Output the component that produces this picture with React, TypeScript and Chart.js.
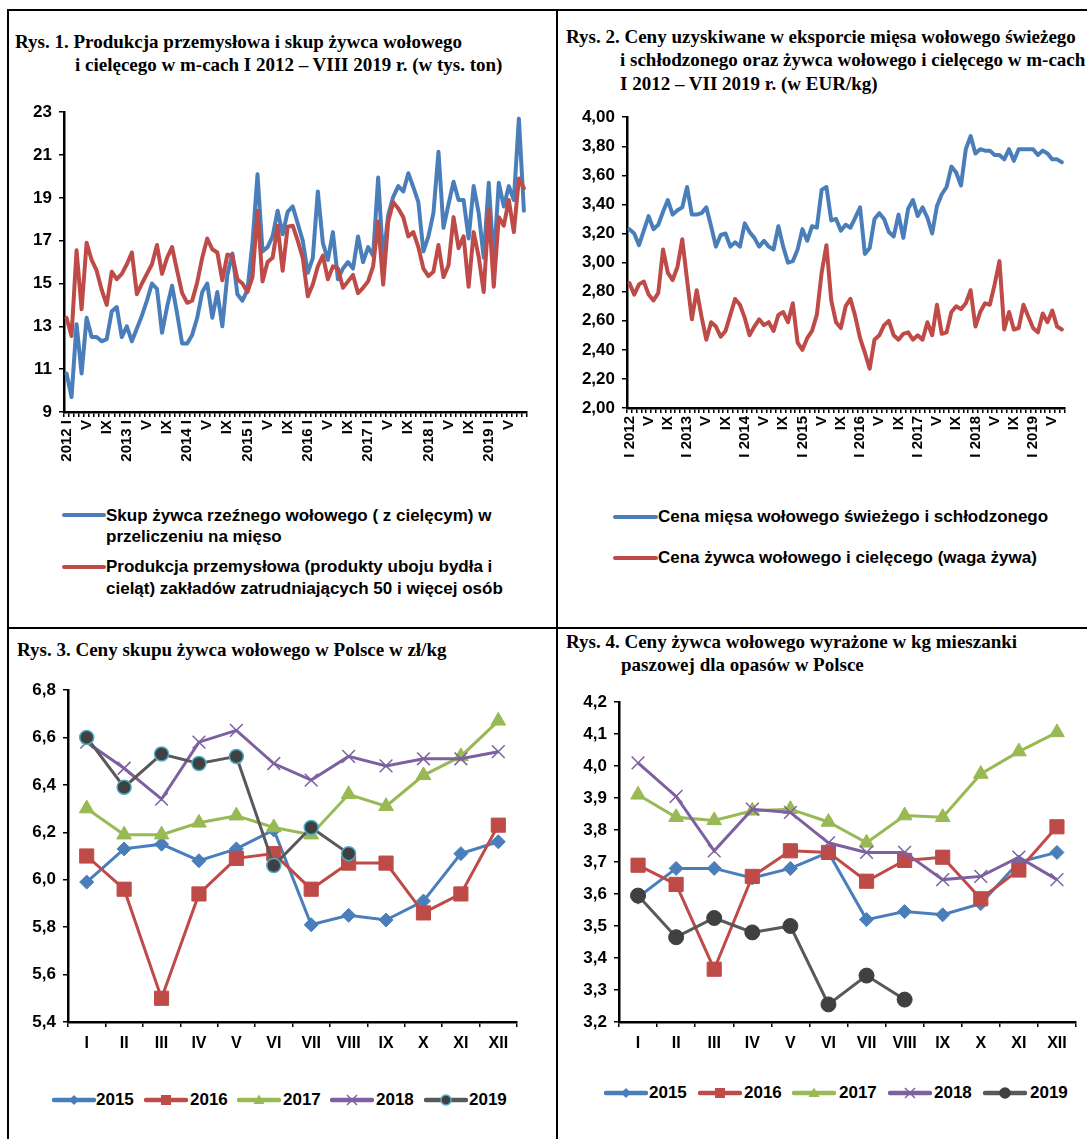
import React, { useEffect, useRef } from "react";
import { Chart, registerables } from "chart.js";

Chart.register(...registerables);

const SERIF = '"Liberation Serif", "Times New Roman", serif';
const SANS = '"Liberation Sans", Arial, sans-serif';

const BLUE = "#4A7EBB";
const RED = "#BE4B48";
const GREEN = "#98B954";
const PURPLE = "#7D60A0";
const GRAY = "#595959";
const DARK = "#404040";
const CYAN = "#4BACC6";

// ---------- Chart 1 data (I 2012 – VIII 2019, monthly, tys. ton) ----------
const years1 = ["2012", "2013", "2014", "2015", "2016", "2017", "2018", "2019"];
const ROMAN = ["I", "II", "III", "IV", "V", "VI", "VII", "VIII", "IX", "X", "XI", "XII"];

const skupValues = [
  10.8, 9.7, 13.1, 10.8, 13.4, 12.5, 12.5, 12.3, 12.4, 13.7, 13.9, 12.5,
  13.0, 12.3, 12.9, 13.5, 14.2, 15.0, 14.75, 12.7, 13.9, 14.9, 13.6, 12.2,
  12.2, 12.6, 13.4, 14.6, 15.0, 13.4, 14.6, 13.0, 15.4, 16.4, 14.5, 14.2,
  14.7, 16.9, 20.1, 16.5, 16.7, 17.2, 18.4, 17.3, 18.35, 18.6, 17.8, 17.0,
  15.5, 16.2, 19.3, 16.9, 16.1, 17.4, 15.2, 15.7, 16.0, 15.7, 17.2, 16.0,
  16.7, 16.3, 19.95, 16.1, 18.2, 19.05, 19.55, 19.3, 20.15, 19.5, 18.8, 16.5,
  17.2, 18.3, 21.15, 17.6, 18.7, 19.75, 18.9, 18.9, 17.1, 19.55, 18.3, 16.2,
  19.7, 16.0, 19.7, 18.6, 19.55, 18.9, 22.7, 18.4,
];
const produkcjaValues = [
  13.4, 12.55, 16.55, 13.8, 16.9, 16.1, 15.6, 14.7, 14.0, 15.55, 15.2, 15.45,
  15.9, 16.45, 14.5, 15.0, 15.45, 15.9, 16.8, 15.45, 16.2, 16.7, 15.6, 14.55,
  14.1, 14.2, 15.05, 16.2, 17.1, 16.6, 16.45, 15.15, 16.35, 16.3, 15.2, 15.0,
  14.6, 15.3, 18.4, 15.1, 16.0, 16.2, 17.7, 15.6, 17.65, 17.7, 17.0, 16.2,
  14.4, 14.95, 15.8, 16.3, 15.2, 15.8, 15.7, 14.8, 15.1, 15.4, 14.55, 14.8,
  15.1, 15.8, 17.9, 14.95, 17.9, 18.8, 18.5, 18.1, 17.2, 17.4, 16.7, 15.7,
  15.35, 15.55, 16.8, 15.3, 15.85, 18.1, 16.65, 17.2, 14.85, 17.4, 16.25, 14.6,
  18.45, 14.85, 18.1, 17.7, 18.9, 17.4, 19.9, 19.45,
];

// ---------- Chart 2 data (I 2012 – VII 2019, EUR/kg) ----------
const miesoEurValues = [
  3.23, 3.20, 3.12, 3.22, 3.32, 3.23, 3.26, 3.35, 3.43, 3.33, 3.36, 3.38,
  3.52, 3.33, 3.33, 3.34, 3.38, 3.25, 3.11, 3.19, 3.20, 3.11, 3.14, 3.11,
  3.27, 3.21, 3.17, 3.11, 3.15, 3.11, 3.09, 3.25, 3.11, 3.00, 3.01, 3.09,
  3.23, 3.15, 3.25, 3.24, 3.50, 3.52, 3.29, 3.30, 3.22, 3.26, 3.24, 3.31,
  3.38, 3.06, 3.10, 3.30, 3.34, 3.30, 3.21, 3.18, 3.33, 3.17, 3.37, 3.43,
  3.32, 3.38, 3.31, 3.20, 3.39, 3.47, 3.52, 3.66, 3.62, 3.53, 3.78, 3.87,
  3.75, 3.78, 3.77, 3.77, 3.74, 3.74, 3.71, 3.78, 3.70, 3.78, 3.78, 3.78,
  3.78, 3.74, 3.77, 3.75, 3.71, 3.71, 3.69,
];
const zywiecEurValues = [
  2.86, 2.78, 2.85, 2.87, 2.78, 2.74, 2.79, 3.09, 2.93, 2.88, 2.97, 3.16,
  2.88, 2.61, 2.81, 2.63, 2.47, 2.59, 2.56, 2.49, 2.53, 2.64, 2.75, 2.71,
  2.62, 2.50, 2.56, 2.61, 2.57, 2.59, 2.53, 2.64, 2.66, 2.59, 2.72, 2.45,
  2.40, 2.48, 2.53, 2.64, 2.93, 3.12, 2.74, 2.59, 2.55, 2.70, 2.75, 2.63,
  2.48, 2.38, 2.27, 2.47, 2.50, 2.57, 2.60, 2.50, 2.47, 2.51, 2.52, 2.47,
  2.50, 2.47, 2.59, 2.50, 2.71, 2.51, 2.52, 2.66, 2.70, 2.68, 2.72, 2.81,
  2.56, 2.66, 2.72, 2.71, 2.85, 3.01, 2.54, 2.66, 2.54, 2.55, 2.71, 2.63,
  2.55, 2.52, 2.65, 2.59, 2.67, 2.56, 2.54,
];

// ---------- Chart 3 data (zł/kg) ----------
const yearLabels = ["2015", "2016", "2017", "2018", "2019"];
const c3_2015 = [5.99, 6.13, 6.15, 6.08, 6.13, 6.21, 5.81, 5.85, 5.83, 5.91, 6.11, 6.16];
const c3_2016 = [6.10, 5.96, 5.50, 5.94, 6.09, 6.11, 5.96, 6.07, 6.07, 5.86, 5.94, 6.23];
const c3_2017 = [6.30, 6.19, 6.19, 6.24, 6.27, 6.22, 6.19, 6.36, 6.31, 6.44, 6.52, 6.67];
const c3_2018 = [6.58, 6.47, 6.34, 6.58, 6.63, 6.49, 6.42, 6.52, 6.48, 6.51, 6.51, 6.54];
const c3_2019 = [6.60, 6.39, 6.53, 6.49, 6.52, 6.06, 6.22, 6.11];

// ---------- Chart 4 data (kg mieszanki) ----------
const c4_2015 = [3.59, 3.68, 3.68, 3.65, 3.68, 3.73, 3.52, 3.545, 3.535, 3.57, 3.70, 3.73];
const c4_2016 = [3.69, 3.63, 3.365, 3.655, 3.735, 3.73, 3.64, 3.705, 3.715, 3.585, 3.675, 3.81];
const c4_2017 = [3.91, 3.84, 3.83, 3.86, 3.865, 3.825, 3.76, 3.845, 3.84, 3.975, 4.045, 4.105];
const c4_2018 = [4.01, 3.905, 3.735, 3.865, 3.855, 3.76, 3.73, 3.73, 3.645, 3.655, 3.715, 3.645];
const c4_2019 = [3.595, 3.465, 3.525, 3.48, 3.50, 3.255, 3.345, 3.27];

// category lists
const months1 = years1.flatMap((y) => ROMAN.map((m) => `${m} ${y}`)).slice(0, skupValues.length);
const months2 = years1.flatMap((y) => ROMAN.map((m) => `${m} ${y}`)).slice(0, miesoEurValues.length);
const tickLabels1 = months1.map((_, i) =>
  i % 4 === 0 ? (i % 12 === 0 ? `${years1[i / 12]} I` : ROMAN[i % 12]) : ""
);
const tickLabels2 = months2.map((_, i) =>
  i % 4 === 0 ? (i % 12 === 0 ? `I ${years1[i / 12]}` : ROMAN[i % 12]) : ""
);

const font = (size: number) => ({ family: SANS, size, weight: "bold" as const });

function yAxis(min: number, max: number, step: number, dec: number, width: number) {
  return {
    min,
    max,
    ticks: {
      stepSize: step,
      color: "#000",
      font: font(17),
      padding: 7,
      callback: (v: any) => Number(v).toFixed(dec).replace(".", ","),
    },
    grid: { drawOnChartArea: false, drawTicks: true, tickLength: 5, tickColor: "#000", lineWidth: 1.5 },
    border: { display: true, color: "#000", width: 2.5 },
    afterFit: (s: any) => {
      s.width = width;
    },
  };
}

function xAxisRot(labels: string[], height: number) {
  return {
    type: "category" as const,
    offset: true,
    grid: { display: true, drawOnChartArea: false, drawTicks: true, tickLength: 5, tickColor: "#000", lineWidth: 1.5, offset: true },
    border: { display: true, color: "#000", width: 2.5 },
    ticks: {
      autoSkip: false,
      maxRotation: 90,
      minRotation: 90,
      color: "#000",
      font: font(15),
      padding: 3,
      callback: (_v: any, i: number) => labels[i],
    },
    afterFit: (s: any) => {
      s.height = height;
    },
  };
}

function xAxisCat(height: number) {
  return {
    type: "category" as const,
    offset: true,
    grid: { display: true, drawOnChartArea: false, drawTicks: true, tickLength: 5, tickColor: "#000", lineWidth: 1.5, offset: true },
    border: { display: true, color: "#000", width: 2.5 },
    ticks: { autoSkip: false, maxRotation: 0, minRotation: 0, color: "#000", font: font(16), padding: 7 },
    afterFit: (s: any) => {
      s.height = height;
    },
  };
}

const baseOpts = (padTop: number, padRight: number) => ({
  responsive: false,
  animation: false as const,
  devicePixelRatio: 1,
  layout: { padding: { top: padTop, right: padRight, left: 0, bottom: 0 } },
  plugins: { legend: { display: false }, tooltip: { enabled: false } },
});

function lineDs(label: string, data: number[], color: string, order: number) {
  return {
    label,
    data,
    borderColor: color,
    backgroundColor: color,
    borderWidth: 4,
    pointRadius: 0,
    tension: 0,
    borderJoinStyle: "round" as const,
    borderCapStyle: "round" as const,
    order,
    clip: false as const,
  };
}

type YearStyle = { color: string; point: string; radius: number; fill: string; border: string; bw: number };
const yearStyles3: YearStyle[] = [
  { color: BLUE, point: "rectRot", radius: 7, fill: BLUE, border: BLUE, bw: 1 },
  { color: RED, point: "rect", radius: 10, fill: RED, border: RED, bw: 1 },
  { color: GREEN, point: "triangle", radius: 8.5, fill: GREEN, border: GREEN, bw: 1 },
  { color: PURPLE, point: "crossRot", radius: 9, fill: PURPLE, border: PURPLE, bw: 1.5 },
  { color: GRAY, point: "circle", radius: 7, fill: DARK, border: CYAN, bw: 1.5 },
];
const yearStyles4: YearStyle[] = yearStyles3.map((s, i) =>
  i === 4 ? { ...s, radius: 7.5, border: DARK, bw: 1 } : s
);

function yearDatasets(series: number[][], styles: YearStyle[]) {
  return series.map((data, k) => ({
    label: yearLabels[k],
    data,
    borderColor: styles[k].color,
    backgroundColor: styles[k].fill,
    borderWidth: 3,
    tension: 0,
    pointStyle: styles[k].point,
    pointRadius: styles[k].radius,
    pointBackgroundColor: styles[k].fill,
    pointBorderColor: styles[k].border,
    pointBorderWidth: styles[k].bw,
    order: 5 - k,
    clip: false as const,
  }));
}

function ChartCanvas(props: { left: number; top: number; width: number; height: number; make: () => any }) {
  const ref = useRef<HTMLCanvasElement>(null);
  useEffect(() => {
    const chart = new Chart(ref.current as HTMLCanvasElement, props.make());
    return () => chart.destroy();
  }, []);
  const { left, top, width, height } = props;
  return (
    <div style={{ position: "absolute", left, top, width, height }}>
      <canvas ref={ref} width={width} height={height} style={{ width, height, display: "block" }} />
    </div>
  );
}

function TitleLine(props: { left: number; cy: number; text: string }) {
  return (
    <div
      style={{
        position: "absolute",
        left: props.left,
        top: props.cy - 12,
        height: 24,
        lineHeight: "24px",
        fontFamily: SERIF,
        fontWeight: "bold",
        fontSize: 19,
        color: "#000",
        whiteSpace: "nowrap",
      }}
    >
      {props.text}
    </div>
  );
}

function TextLegend(props: { sampleLeft: number; textLeft: number; cy: number; color: string; lines: string[]; lh: number }) {
  const { sampleLeft, textLeft, cy, color, lines, lh } = props;
  return (
    <>
      <div style={{ position: "absolute", left: sampleLeft, top: cy - 2, width: textLeft - sampleLeft, height: 4, background: color, borderRadius: 2 }} />
      <div
        style={{
          position: "absolute",
          left: textLeft,
          top: cy - lh / 2,
          fontFamily: SANS,
          fontWeight: "bold",
          fontSize: 17,
          lineHeight: `${lh}px`,
          color: "#000",
          whiteSpace: "nowrap",
        }}
      >
        {lines.map((l, i) => (
          <div key={i}>{l}</div>
        ))}
      </div>
    </>
  );
}

function MarkerSvg({ st }: { st: YearStyle }) {
  const cx = 22, cy = 8;
  let m: any = null;
  if (st.point === "rectRot") m = <polygon points={`${cx},${cy - 5} ${cx + 5},${cy} ${cx},${cy + 5} ${cx - 5},${cy}`} fill={st.fill} />;
  else if (st.point === "rect") m = <rect x={cx - 5} y={cy - 5} width={10} height={10} fill={st.fill} />;
  else if (st.point === "triangle") m = <polygon points={`${cx},${cy - 5.5} ${cx + 5.5},${cy + 4} ${cx - 5.5},${cy + 4}`} fill={st.fill} />;
  else if (st.point === "crossRot")
    m = (
      <g stroke={st.fill} strokeWidth={1.5}>
        <line x1={cx - 5} y1={cy - 5} x2={cx + 5} y2={cy + 5} />
        <line x1={cx - 5} y1={cy + 5} x2={cx + 5} y2={cy - 5} />
      </g>
    );
  else m = <circle cx={cx} cy={cy} r={5} fill={st.fill} stroke={st.border} strokeWidth={1.5} />;
  return (
    <svg width={44} height={16} style={{ display: "block" }}>
      <line x1={2} y1={cy} x2={42} y2={cy} stroke={st.color} strokeWidth={4.5} strokeLinecap="round" />
      {m}
    </svg>
  );
}

function YearLegend(props: { items: [number, number][]; cy: number; styles: YearStyle[] }) {
  return (
    <>
      {props.items.map(([sl, tl], k) => (
        <React.Fragment key={k}>
          <div style={{ position: "absolute", left: sl, top: props.cy - 8 }}>
            <MarkerSvg st={props.styles[k]} />
          </div>
          <div
            style={{
              position: "absolute",
              left: tl,
              top: props.cy - 11,
              lineHeight: "22px",
              fontFamily: SANS,
              fontWeight: "bold",
              fontSize: 17,
              color: "#000",
            }}
          >
            {yearLabels[k]}
          </div>
        </React.Fragment>
      ))}
    </>
  );
}

const line = (l: number, t: number, w: number, h: number) => (
  <div style={{ position: "absolute", left: l, top: t, width: w, height: h, background: "#000" }} />
);

export default function App() {
  return (
    <div style={{ position: "absolute", left: 0, top: 0, width: 1087, height: 1139, background: "#fff", overflow: "hidden" }}>
      {line(7, 9, 1080, 2)}
      {line(7, 9, 2, 1130)}
      {line(556, 9, 2, 1130)}
      {line(7, 627, 1080, 2)}

      <TitleLine left={15} cy={42} text="Rys. 1. Produkcja przemysłowa i skup żywca wołowego" />
      <TitleLine left={75} cy={65} text="i cielęcego w m-cach I 2012 – VIII 2019 r. (w tys. ton)" />

      <TitleLine left={566} cy={37} text="Rys. 2. Ceny uzyskiwane w eksporcie mięsa wołowego świeżego" />
      <TitleLine left={620} cy={60} text="i schłodzonego oraz żywca wołowego i cielęcego w m-cach" />
      <TitleLine left={620} cy={84} text="I 2012 – VII 2019 r. (w EUR/kg)" />

      <TitleLine left={17} cy={650} text="Rys. 3. Ceny skupu żywca wołowego w Polsce w zł/kg" />

      <TitleLine left={566} cy={642} text="Rys. 4. Ceny żywca wołowego wyrażone w kg mieszanki" />
      <TitleLine left={621} cy={665} text="paszowej dla opasów w Polsce" />

      <ChartCanvas
        left={10}
        top={95}
        width={535}
        height={377}
        make={() => ({
          type: "line",
          data: {
            labels: months1,
            datasets: [
              lineDs("Skup żywca rzeźnego wołowego ( z cielęcym) w przeliczeniu na mięso", skupValues, BLUE, 2),
              lineDs("Produkcja przemysłowa (produkty uboju bydła i cieląt) zakładów zatrudniających 50 i więcej osób", produkcjaValues, RED, 1),
            ],
          },
          options: {
            ...baseOpts(17, 16),
            scales: { x: xAxisRot(tickLabels1, 60), y: yAxis(9, 23, 2, 0, 54) },
          },
        })}
      />

      <ChartCanvas
        left={565}
        top={100}
        width={518}
        height={368}
        make={() => ({
          type: "line",
          data: {
            labels: months2,
            datasets: [
              lineDs("Cena mięsa wołowego świeżego i schłodzonego", miesoEurValues, BLUE, 2),
              lineDs("Cena żywca wołowego i cielęcego (waga żywa)", zywiecEurValues, RED, 1),
            ],
          },
          options: {
            ...baseOpts(17, 15),
            scales: { x: xAxisRot(tickLabels2, 60), y: yAxis(2, 4, 0.2, 2, 62) },
          },
        })}
      />

      <ChartCanvas
        left={12}
        top={672}
        width={520}
        height={385}
        make={() => ({
          type: "line",
          data: {
            labels: ROMAN,
            datasets: yearDatasets([c3_2015, c3_2016, c3_2017, c3_2018, c3_2019], yearStyles3),
          },
          options: {
            ...baseOpts(18, 15),
            scales: { x: xAxisCat(35), y: yAxis(5.4, 6.8, 0.2, 1, 56) },
          },
        })}
      />

      <ChartCanvas
        left={565}
        top={684}
        width={522}
        height={373}
        make={() => ({
          type: "line",
          data: {
            labels: ROMAN,
            datasets: yearDatasets([c4_2015, c4_2016, c4_2017, c4_2018, c4_2019], yearStyles4),
          },
          options: {
            ...baseOpts(18, 11),
            scales: { x: xAxisCat(35), y: yAxis(3.2, 4.2, 0.1, 1, 54) },
          },
        })}
      />

      <TextLegend
        sampleLeft={62}
        textLeft={106}
        cy={515}
        color={BLUE}
        lh={21}
        lines={["Skup żywca rzeźnego wołowego ( z cielęcym) w", "przeliczeniu na mięso"]}
      />
      <TextLegend
        sampleLeft={62}
        textLeft={106}
        cy={567}
        color={RED}
        lh={22}
        lines={["Produkcja przemysłowa (produkty uboju bydła i", "cieląt) zakładów zatrudniających 50 i więcej osób"]}
      />
      <TextLegend sampleLeft={613} textLeft={658} cy={517} color={BLUE} lh={22} lines={["Cena mięsa wołowego świeżego i schłodzonego"]} />
      <TextLegend sampleLeft={613} textLeft={658} cy={558} color={RED} lh={22} lines={["Cena żywca wołowego i cielęcego (waga żywa)"]} />

      <YearLegend items={[[52, 96], [144, 190], [237, 283], [330, 376], [424, 469]]} cy={1100} styles={yearStyles3} />
      <YearLegend items={[[604, 649], [698, 744], [792, 839], [888, 934], [983, 1030]]} cy={1093} styles={yearStyles4} />
    </div>
  );
}
